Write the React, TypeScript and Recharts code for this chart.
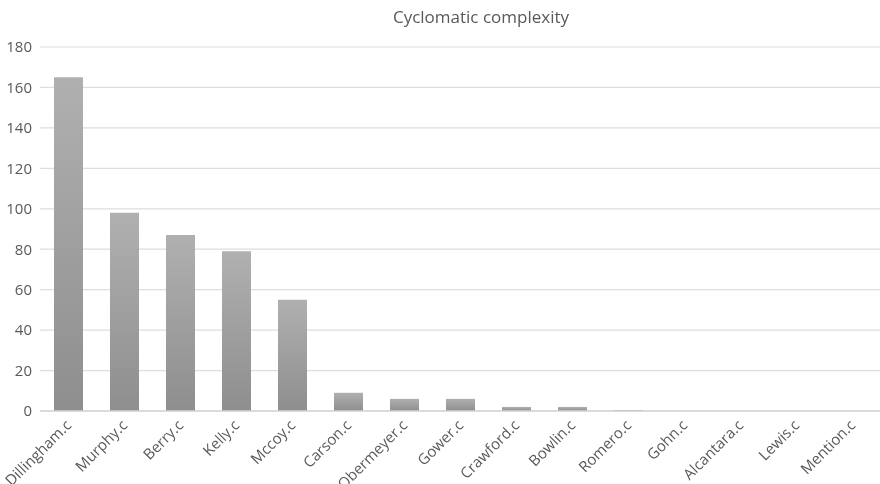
import React from "react";
import { BarChart, Bar, XAxis, YAxis, CartesianGrid } from "recharts";

const categories = [
  "Dillingham.c", "Murphy.c", "Berry.c", "Kelly.c", "Mccoy.c", "Carson.c",
  "Obermeyer.c", "Gower.c", "Crawford.c", "Bowlin.c", "Romero.c", "Gohn.c",
  "Alcantara.c", "Lewis.c", "Mention.c",
];
const complexity = [165, 98, 87, 79, 55, 9, 6, 6, 2, 2, 0.5, 0, 0, 0, 0];
const yTicks = [0, 20, 40, 60, 80, 100, 120, 140, 160, 180];
const title = "Cyclomatic complexity";

const data = categories.map((name, i) => ({ name, value: complexity[i] }));

const FONT = "'Open Sans', 'Noto Sans', sans-serif";
const TEXT = "#595959";

const XTick = (props: any) => {
  const { x, y, payload } = props;
  return (
    <g transform={`translate(${x},${y})`}>
      <text
        x={0}
        y={0}
        dx={-2}
        dy={8}
        textAnchor="end"
        fill={TEXT}
        fontSize={15}
        fontFamily={FONT}
        transform="rotate(-45)"
      >
        {payload.value}
      </text>
    </g>
  );
};

export default function App() {
  return (
    <div style={{ position: "fixed", left: 0, top: 0, width: 880, height: 484, background: "#fff" }}>
      <div
        style={{
          position: "absolute",
          left: 0,
          width: 962,
          top: 5,
          textAlign: "center",
          fontFamily: FONT,
          fontSize: 17,
          color: TEXT,
        }}
      >
        {title}
      </div>
      <BarChart
        width={880}
        height={484}
        data={data}
        margin={{ top: 47, right: 0, bottom: 0, left: 0 }}
      >
        <defs>
          <linearGradient id="barGrad" x1="0" y1="0" x2="0" y2="1">
            <stop offset="0%" stopColor="#b0b0b0" />
            <stop offset="100%" stopColor="#8e8e8e" />
          </linearGradient>
        </defs>
        <CartesianGrid vertical={false} stroke="#dedede" strokeWidth={1.2} />
        <XAxis
          dataKey="name"
          interval={0}
          height={73}
          tick={<XTick />}
          tickLine={false}
          axisLine={{ stroke: "#d4d4d4", strokeWidth: 1.5 }}
        />
        <YAxis
          width={40}
          domain={[0, 180]}
          ticks={yTicks}
          axisLine={false}
          tickLine={false}
          tick={{ fill: TEXT, fontSize: 15, fontFamily: FONT }}
        />
        <Bar dataKey="value" fill="url(#barGrad)" barSize={29} isAnimationActive={false} />
      </BarChart>
    </div>
  );
}
